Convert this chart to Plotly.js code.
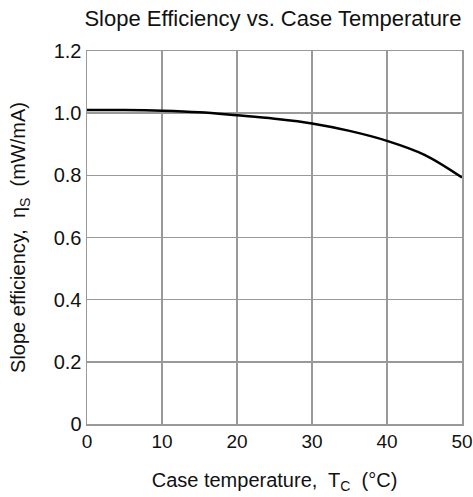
<!DOCTYPE html>
<html>
<head>
<meta charset="utf-8">
<script src="https://cdn.plot.ly/plotly-3.0.1.min.js"></script>
<style>html,body{margin:0;padding:0;background:#fff;}#chart{width:473px;height:497px;}</style>
</head>
<body>
<div id="chart"></div>
<script>
// Case temperature (°C)
const caseTemp = [0, 5, 10, 15, 20, 25, 30, 35, 40, 45, 50];
// Slope efficiency (mW/mA)
const slopeEff = [1.01, 1.01, 1.008, 1.003, 0.993, 0.982, 0.967, 0.943, 0.911, 0.866, 0.793];
const xTickVals = [0, 10, 20, 30, 40, 50];
const xTickText = ['0', '10', '20', '30', '40', '50'];
const yTickVals = [0, 0.2, 0.4, 0.6, 0.8, 1.0, 1.2];
const yTickText = ['0', '0.2', '0.4', '0.6', '0.8', '1.0', '1.2'];

const font = 'Liberation Sans, Arial, sans-serif';
const trace = {
  x: caseTemp, y: slopeEff, type: 'scatter', mode: 'lines',
  line: {color: '#000', width: 2.5, shape: 'spline', smoothing: 1},
  hoverinfo: 'skip'
};
const layout = {
  width: 473, height: 497,
  margin: {l: 87, r: 11, t: 51, b: 73},
  paper_bgcolor: '#fff', plot_bgcolor: '#fff',
  showlegend: false,
  font: {family: font, color: '#111', size: 20},
  title: {text: 'Slope Efficiency vs. Case Temperature', font: {family: font, size: 22, color: '#111'},
          x: 0.577, xanchor: 'center', y: 0.963, yanchor: 'middle'},
  xaxis: {
    range: [0, 50], tickvals: xTickVals, ticktext: xTickText,
    showgrid: true, gridcolor: '#999', gridwidth: 1.5,
    showline: true, linecolor: '#999', linewidth: 1.5, mirror: true,
    zeroline: false, ticks: '', ticklen: 0, ticklabeloverflow: 'allow',
    tickfont: {family: font, size: 19, color: '#111'},
    title: {text: 'Case temperature,  T<sub>C</sub>  (°C)', font: {family: font, size: 20, color: '#111'}, standoff: 21}
  },
  yaxis: {
    range: [0, 1.2], tickvals: yTickVals, ticktext: yTickText,
    showgrid: true, gridcolor: '#999', gridwidth: 1.5,
    showline: true, linecolor: '#999', linewidth: 1.5, mirror: true,
    zeroline: false, ticks: '', ticklen: 0,
    tickfont: {family: font, size: 20, color: '#111'},
    title: {text: 'Slope efficiency,  η<sub>S</sub>  (mW/mA)', font: {family: font, size: 20, color: '#111'}, standoff: 22}
  }
};
Plotly.newPlot('chart', [trace], layout, {displayModeBar: false, staticPlot: true});
</script>
</body>
</html>
